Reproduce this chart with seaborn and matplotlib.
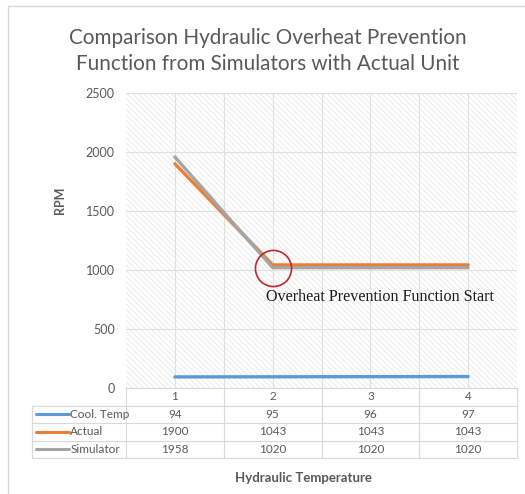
import matplotlib
matplotlib.use("Agg")
import matplotlib.pyplot as plt
import seaborn as sns
import pandas as pd
import numpy as np
from matplotlib.patches import Rectangle
from matplotlib.lines import Line2D
from matplotlib.ticker import FixedLocator

categories = ["1", "2", "3", "4"]
cool_temp = [94, 95, 96, 97]
actual = [1900, 1043, 1043, 1043]
simulator = [1958, 1020, 1020, 1020]
series_names = ["Cool. Temp", "Actual", "Simulator"]
series_colors = ["#5B9BD5", "#ED7D31", "#A5A5A5"]
y_ticks = [0, 500, 1000, 1500, 2000, 2500]

title = "Comparison Hydraulic Overheat Prevention\nFunction from Simulators with Actual Unit"
annotation = "Overheat Prevention Function Start"

sns.set_theme(style="white")
plt.rcParams["font.family"] = ["Lato", "DejaVu Sans"]
plt.rcParams["hatch.linewidth"] = 0.5

W, H = 525, 494
fig = plt.figure(figsize=(W / 100, H / 100), dpi=100)
fig.patch.set_facecolor("white")

# outer chart frame
fig.add_artist(Rectangle((8 / W, -0.1), 1.2, 1 - 6 / H + 0.1, transform=fig.transFigure,
                         fill=False, edgecolor="#D9D9D9", linewidth=1.0))

left, right, top, bottom = 126, 517, 93, 388
ax = fig.add_axes([left / W, 1 - bottom / H, (right - left) / W, (bottom - top) / H])
ax.set_facecolor("white")

df = pd.DataFrame({
    "x": list(range(len(categories))) * 3,
    "value": cool_temp + actual + simulator,
    "series": [s for s in series_names for _ in categories],
})
sns.lineplot(data=df, x="x", y="value", hue="series", palette=dict(zip(series_names, series_colors)),
             hue_order=series_names, linewidth=2.4, legend=False, ax=ax, zorder=3)

ax.set_xlim(-0.5, len(categories) - 0.5)
ax.set_ylim(0, 2500)
ax.set_yticks(y_ticks)
ax.set_yticklabels([str(v) for v in y_ticks], color="#595959", fontsize=9)
ax.xaxis.set_major_locator(FixedLocator(range(len(categories))))
ax.xaxis.set_minor_locator(FixedLocator([i + 0.5 for i in range(len(categories) - 1)]))
ax.set_xticklabels([])
ax.tick_params(axis="both", which="both", length=0)
ax.tick_params(axis="y", pad=8)
ax.grid(True, which="both", axis="x", color="#E0E0E0", linewidth=0.8)
ax.grid(True, which="major", axis="y", color="#E0E0E0", linewidth=0.8)
for s in ax.spines.values():
    s.set_visible(False)
ax.set_xlabel("")
ax.set_ylabel("")

# hatched plot area background
ax.add_patch(Rectangle((0, 0), 1, 1, transform=ax.transAxes, facecolor="none",
                       edgecolor="#E4E4E4", hatch="\\" * 6, linewidth=0, zorder=0))

# highlight circle + annotation
ax.plot([1], [simulator[1]], marker="o", markersize=26, markerfacecolor="none",
        markeredgecolor="#C0282D", markeredgewidth=1.2, zorder=4)
ax.annotate(annotation, xy=(1, simulator[1]), xytext=(-5, -21), textcoords="offset points",
            ha="left", va="center", fontsize=11.6, family=["Liberation Serif"], color="#1a1a1a")

# data table beneath the plot
row_h = 17.5 / (bottom - top)
lab_left = (32 - left) / (right - left)
grid_c = "#D9D9D9"
n = len(categories)
rows = [cool_temp, actual, simulator]
kw = dict(transform=ax.transAxes, clip_on=False, color=grid_c, linewidth=0.8)
ax.add_line(Line2D([0, 1], [0, 0], **kw))
for r in range(1, len(rows) + 2):
    y = -r * row_h
    ax.add_line(Line2D([lab_left, 1], [y, y], **kw))
ybot = -(len(rows) + 1) * row_h
for i in range(n + 1):
    ax.add_line(Line2D([i / n, i / n], [0, ybot], **kw))
ax.add_line(Line2D([lab_left, lab_left], [-row_h, ybot], **kw))
for i, c in enumerate(categories):
    ax.text((i + 0.5) / n, -0.5 * row_h, c, transform=ax.transAxes, ha="center", va="center",
            fontsize=8.5, color="#595959")
for r, (name, col, vals) in enumerate(zip(series_names, series_colors, rows), start=1):
    yc = -(r + 0.5) * row_h
    ax.add_line(Line2D([lab_left + 0.01, lab_left + 0.095], [yc, yc], transform=ax.transAxes,
                       clip_on=False, color=col, linewidth=2.2))
    ax.text(lab_left + 0.098, yc, name, transform=ax.transAxes, ha="left", va="center",
            fontsize=8.5, color="#595959")
    for i, v in enumerate(vals):
        ax.text((i + 0.5) / n, yc, str(v), transform=ax.transAxes, ha="center", va="center",
                fontsize=8.5, color="#595959")

fig.text(268 / W, 1 - 51 / H, title, ha="center", va="center", fontsize=14.9,
         color="#595959", linespacing=1.38)
fig.text(60 / W, 1 - 200 / H, "RPM", rotation=90, ha="center", va="center", fontsize=9,
         fontweight="bold", color="#595959")
fig.text(303 / W, 1 - 478 / H, "Hydraulic Temperature", ha="center", va="center", fontsize=9.5,
         fontweight="bold", color="#595959")

fig.savefig("out.png", dpi=100)
